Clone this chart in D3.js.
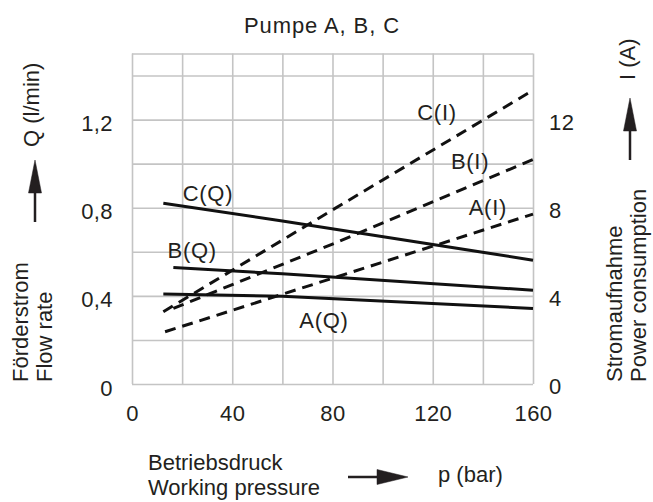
<!DOCTYPE html>
<html>
<head>
<meta charset="utf-8">
<script src="https://cdn.jsdelivr.net/npm/d3@7"></script>
<style>
  html, body { margin: 0; padding: 0; background: #fff; }
  svg text { font-family: "Liberation Sans", Arial, Helvetica, sans-serif; fill: #231f20; }
</style>
</head>
<body>
<svg id="chart" width="653" height="502"></svg>
<script>
// ---- Data ----
const pressureTicks = [0, 40, 80, 120, 160];
const flowTicks = [0, 0.4, 0.8, 1.2];
const currentTicks = [0, 4, 8, 12];

// Flow rate Q (l/min) vs pressure p (bar): [p, Q]
const flowC = [[12.5, 0.82], [60, 0.74], [160, 0.562]];
const flowB = [[16.5, 0.529], [60, 0.50], [160, 0.426]];
const flowA = [[12.5, 0.408], [60, 0.398], [160, 0.343]];

// Current I (A) vs pressure p (bar): [p, I]
const currC = [[12.5, 3.28], [80, 7.9], [160, 13.33]];
const currB = [[16.5, 3.43], [80, 6.35], [160, 10.19]];
const currA = [[13.2, 2.37], [80, 4.8], [160, 7.71]];

// Curve labels: [text, p, value, axis]
const curveLabels = [
  ["C(Q)", 30.3, 0.866, "Q"],
  ["B(Q)", 24, 0.608, "Q"],
  ["A(Q)", 76.6, 0.29, "Q"],
  ["C(I)", 121.7, 12.34, "I"],
  ["B(I)", 134.9, 10.11, "I"],
  ["A(I)", 142, 8.03, "I"]
];

// ---- Layout ----
const svg = d3.select("#chart");
const mLeft = 132, mRight = 533, mTop = 53.5, mBottom = 384;
const FS = 22;
const ink = "#231f20";

const x = d3.scaleLinear().domain([0, 160]).range([mLeft, mRight]);
const yQ = d3.scaleLinear().domain([0, 1.5]).range([mBottom, mTop]);
const yI = d3.scaleLinear().domain([0, 15]).range([mBottom, mTop]);

// ---- Grid ----
const grid = svg.append("g");
grid.append("g")
  .attr("transform", `translate(0,${mBottom})`)
  .call(d3.axisBottom(x).tickValues(d3.range(0, 161, 20)).tickSize(-(mBottom - mTop)).tickFormat(""))
  .call(g => g.select(".domain").remove());
grid.append("g")
  .attr("transform", `translate(${mLeft},0)`)
  .call(d3.axisLeft(yQ).tickValues([0, 0.2, 0.4, 0.6, 0.8, 1.0, 1.2, 1.4, 1.5]).tickSize(-(mRight - mLeft)).tickFormat(""))
  .call(g => g.select(".domain").remove());
grid.selectAll(".tick line").attr("stroke", "#c4c4c4").attr("stroke-width", 1.6);

// ---- Tick labels ----
const fmtQ = d => d === 0 ? "0" : d3.format(".1f")(d).replace(".", ",");
const axL = svg.append("g").attr("transform", `translate(${mLeft},0)`)
  .call(d3.axisLeft(yQ).tickValues(flowTicks).tickFormat(fmtQ).tickSize(0).tickPadding(19));
const axR = svg.append("g").attr("transform", `translate(${mRight},0)`)
  .call(d3.axisRight(yI).tickValues(currentTicks).tickFormat(d3.format("d")).tickSize(0).tickPadding(16));
const axB = svg.append("g").attr("transform", `translate(0,${mBottom})`)
  .call(d3.axisBottom(x).tickValues(pressureTicks).tickFormat(d3.format("d")).tickSize(0).tickPadding(21));
[axL, axR, axB].forEach(a => {
  a.select(".domain").remove();
  a.selectAll("text").attr("font-size", FS).attr("font-family", null)
    .attr("letter-spacing", "0.4px").style("fill", ink);
});
axL.selectAll("text").attr("dy", "0.5em");
axR.selectAll("text").attr("dy", "0.45em");

// ---- Curves ----
const lineQ = d3.line().x(d => x(d[0])).y(d => yQ(d[1]));
const lineI = d3.line().x(d => x(d[0])).y(d => yI(d[1]));
const curves = svg.append("g").attr("fill", "none").attr("stroke", "#111").attr("stroke-width", 3);
[flowC, flowB, flowA].forEach(s => curves.append("path").attr("d", lineQ(s)));
[currC, currB, currA].forEach(s => curves.append("path").attr("d", lineI(s)).attr("stroke-dasharray", "11,7"));

// ---- Curve labels ----
svg.append("g").selectAll("text").data(curveLabels).join("text")
  .attr("x", d => x(d[1]))
  .attr("y", d => d[3] === "Q" ? yQ(d[2]) : yI(d[2]))
  .attr("dy", "0.36em")
  .attr("text-anchor", "middle")
  .attr("font-size", FS)
  .attr("letter-spacing", "0.7px")
  .text(d => d[0]);

// ---- Title ----
svg.append("text").attr("x", 322).attr("y", 32.5).attr("text-anchor", "middle")
  .attr("font-size", FS).attr("letter-spacing", "0.9px").text("Pumpe A, B, C");

// ---- Axis titles ----
function vtext(tx, ty, txt) {
  svg.append("text").attr("transform", `translate(${tx},${ty}) rotate(-90)`)
    .attr("font-size", FS).text(txt);
}
vtext(28, 382, "Förderstrom");
vtext(52, 382, "Flow rate");
vtext(39, 147, "Q (l/min)");
vtext(622, 382, "Stromaufnahme");
vtext(646, 382, "Power consumption");
vtext(635, 80, "I (A)");

svg.append("text").attr("x", 148).attr("y", 470).attr("font-size", FS).text("Betriebsdruck");
svg.append("text").attr("x", 148).attr("y", 495).attr("font-size", FS).text("Working pressure");
svg.append("text").attr("x", 438).attr("y", 482).attr("font-size", FS).text("p (bar)");

// ---- Arrows ----
const arrows = svg.append("g").attr("fill", ink).attr("stroke", ink);
// left vertical
arrows.append("line").attr("x1", 35).attr("x2", 35).attr("y1", 222).attr("y2", 185).attr("stroke-width", 2.5);
arrows.append("path").attr("d", "M35,160 L41.5,193 L28.5,193 Z").attr("stroke-width", 0.5);
// right vertical
arrows.append("line").attr("x1", 630).attr("x2", 630).attr("y1", 160).attr("y2", 122).attr("stroke-width", 2.5);
arrows.append("path").attr("d", "M630,98 L636.5,131 L623.5,131 Z").attr("stroke-width", 0.5);
// bottom horizontal
arrows.append("line").attr("x1", 348).attr("x2", 385).attr("y1", 477).attr("y2", 477).attr("stroke-width", 2.5);
arrows.append("path").attr("d", "M408,477 L377,469.5 L377,484.5 Z").attr("stroke-width", 0.5);
</script>
</body>
</html>
